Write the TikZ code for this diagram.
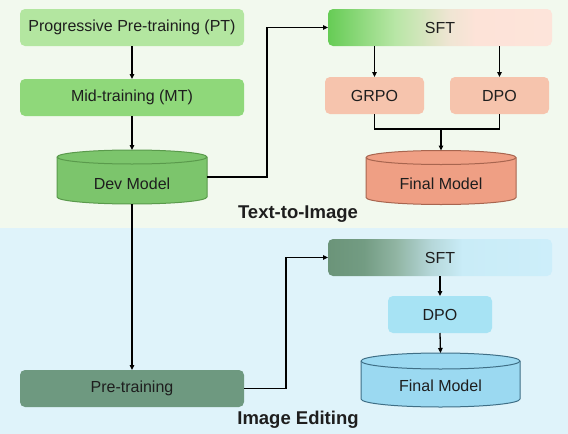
\documentclass[tikz,border=0pt]{standalone}
\usepackage{fontspec}
\setmainfont{Liberation Sans}
\usetikzlibrary{arrows.meta}
\definecolor{bggreen}{HTML}{F2F9EE}
\definecolor{bgblue}{HTML}{DFF3FA}
\definecolor{ptc}{HTML}{B3E6A0}
\definecolor{mtc}{HTML}{8FD87A}
\definecolor{devc}{HTML}{7CC56C}
\definecolor{devd}{HTML}{5A9A4C}
\definecolor{prec}{HTML}{6E9980}
\definecolor{rlc}{HTML}{F6C4AD}
\definecolor{fmc}{HTML}{EF9F84}
\definecolor{fmd}{HTML}{A8654F}
\definecolor{dpob}{HTML}{A7E3F4}
\definecolor{fmb}{HTML}{9BD9F1}
\definecolor{fmbd}{HTML}{3F6F86}
\definecolor{txt}{HTML}{1E1E1E}
\definecolor{ga}{HTML}{66CC55}
\definecolor{gb}{HTML}{B8E6A6}
\definecolor{gc}{HTML}{EFE5D3}
\definecolor{gd}{HTML}{FDE3D8}
\definecolor{ge}{HTML}{FDE4DA}
\definecolor{ba}{HTML}{6B9479}
\definecolor{bb}{HTML}{739C83}
\definecolor{bc}{HTML}{90B4A2}
\definecolor{bd}{HTML}{B5D7D9}
\definecolor{be}{HTML}{C9ECF7}
\definecolor{bf}{HTML}{CDEEFA}
\pgfdeclarehorizontalshading{sftgreen}{100bp}{color(0bp)=(ga); color(25bp)=(ga); color(40bp)=(gb); color(52bp)=(gc); color(58bp)=(gd); color(75bp)=(ge); color(100bp)=(ge)}
\pgfdeclarehorizontalshading{sftblue}{100bp}{color(0bp)=(ba); color(25bp)=(ba); color(33bp)=(bb); color(40bp)=(bc); color(48bp)=(bd); color(55bp)=(be); color(75bp)=(bf); color(100bp)=(bf)}
\tikzset{
  box/.style={rectangle, rounded corners=5pt, inner sep=0pt, outer sep=0pt, minimum height=37pt, text=txt, font=\fontsize{16}{19}\selectfont},
  cylbox/.style={rectangle, inner sep=0pt, outer sep=0pt, minimum height=54pt},
  cyltext/.style={text=txt, font=\fontsize{16}{19}\selectfont, inner sep=0pt},
  conn/.style={line width=1.3pt, black},
  arr/.style={conn, -{Triangle[length=5pt,width=4.5pt]}},
  sect/.style={text=txt, font=\bfseries\fontsize{18.5}{22}\selectfont, inner sep=0pt}
}
\newcommand\mycyl[5]{%
  \path[fill=#2,draw=#3,line width=1pt] ([yshift=-#5]#1.north west) -- ([yshift=#5]#1.south west)
    arc[start angle=180,end angle=360,x radius=#4,y radius=#5] -- ([yshift=-#5]#1.north east)
    arc[start angle=0,end angle=180,x radius=#4,y radius=#5] -- cycle;
  \draw[#3,line width=1pt] ([yshift=-#5]#1.north west) arc[start angle=180,end angle=360,x radius=#4,y radius=#5];
}
\begin{document}
\begin{tikzpicture}[x=1pt,y=1pt]
\useasboundingbox (0,0) rectangle (568,-434);
\fill[bggreen] (0,0) rectangle (568,-228);
\fill[bgblue] (0,-228) rectangle (568,-434);

% Text-to-Image
\node[box, fill=ptc, minimum width=224pt] (pt) at (132,-27.5) {Progressive Pre-training (PT)};
\node[box, fill=mtc, minimum width=224pt] (mt) at (132,-97.5) {Mid-training (MT)};
\node[cylbox, minimum width=150pt] (dev) at (132,-177) {};
\mycyl{dev}{devc}{devd}{75pt}{7pt}
\node[cyltext] (devt) at (132,-183.5) {Dev Model};

\node[box, shading=sftgreen, minimum width=224pt] (sft1) at (440,-27.5) {SFT};
\node[box, fill=rlc, minimum width=99pt] (grpo) at (374.5,-95.5) {GRPO};
\node[box, fill=rlc, minimum width=99pt] (dpo1) at (499.5,-95.5) {DPO};
\node[cylbox, minimum width=150pt] (fm1) at (441,-177.5) {};
\mycyl{fm1}{fmc}{fmd}{75pt}{7pt}
\node[cyltext] (fm1t) at (441,-184) {Final Model};
\node[sect] (lab1) at (298,-214) {Text-to-Image};

% Image Editing
\node[box, fill=prec, minimum width=224pt] (pre) at (132,-388.5) {Pre-training};
\node[box, shading=sftblue, minimum width=224pt] (sft2) at (440,-257.5) {SFT};
\node[box, fill=dpob, minimum width=104pt] (dpo2) at (440,-314.5) {DPO};
\node[cylbox, minimum width=159pt] (fm2) at (440.5,-380) {};
\mycyl{fm2}{fmb}{fmbd}{79.5pt}{8pt}
\node[cyltext] (fm2t) at (440.5,-386) {Final Model};
\node[sect] (lab2) at (298,-420) {Image Editing};

% connectors
\draw[arr] (pt.south) -- (mt.north);
\draw[arr] (mt.south) -- (dev.north);
\draw[arr] (dev.east) -- ++(60,0) |- (sft1.west);
\draw[arr] (grpo.north |- sft1.south) -- (grpo.north);
\draw[arr] (dpo1.north |- sft1.south) -- (dpo1.north);
\coordinate (merge) at (441,-129);
\draw[conn] (grpo.south) |- (merge) -| (dpo1.south);
\draw[arr] (merge) -- (fm1.north);
\draw[arr] (dev.south) -- (pre.north);
\draw[arr] (pre.east) -- ++(42,0) |- (sft2.west);
\draw[arr] (sft2.south) -- (dpo2.north);
\draw[arr] (dpo2.south) -- (fm2.north);
\end{tikzpicture}
\end{document}
